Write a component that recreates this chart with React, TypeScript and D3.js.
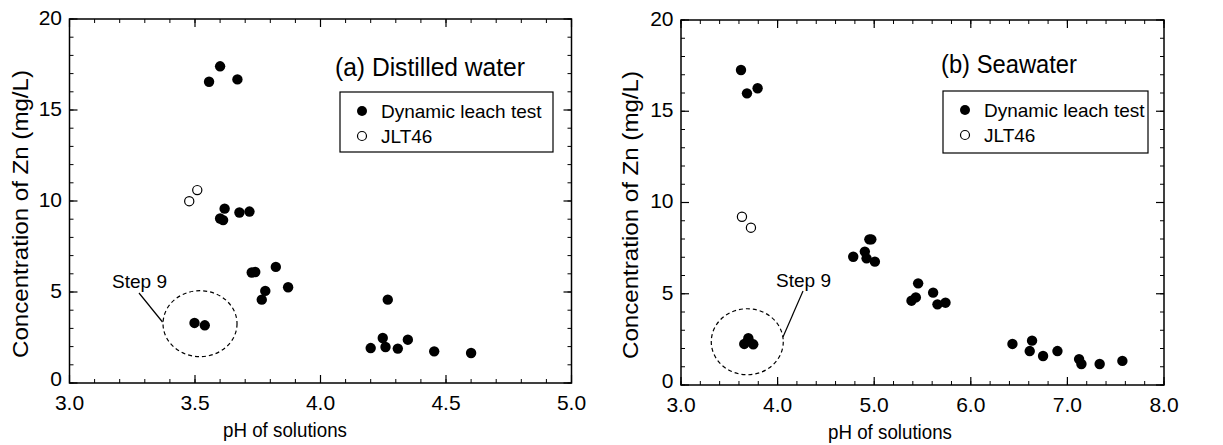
import React from "react";
import * as d3 from "d3";

// ---------- data ----------
const yTicks = [0, 5, 10, 15, 20];
const distilledXTicks = [3.0, 3.5, 4.0, 4.5, 5.0];
const seawaterXTicks = [3.0, 4.0, 5.0, 6.0, 7.0, 8.0];

const distilledDynamicPH = [3.556, 3.6, 3.669, 3.618, 3.6, 3.612, 3.677, 3.717, 3.726, 3.74, 3.822, 3.78, 3.766, 3.871, 3.498, 3.539, 4.268, 4.248, 4.259, 4.2, 4.308, 4.348, 4.453, 4.6];
const distilledDynamicZn = [16.55, 17.4, 16.68, 9.58, 9.04, 8.95, 9.37, 9.42, 6.07, 6.1, 6.38, 5.06, 4.58, 5.26, 3.3, 3.17, 4.58, 2.47, 1.98, 1.92, 1.89, 2.38, 1.74, 1.65];
const distilledJltPH = [3.477, 3.509];
const distilledJltZn = [9.99, 10.6];

const seawaterDynamicPH = [3.621, 3.683, 3.793, 3.655, 3.697, 3.748, 4.783, 4.903, 4.921, 4.95, 4.97, 5.007, 5.386, 5.431, 5.455, 5.61, 5.655, 5.738, 6.431, 6.634, 6.61, 6.748, 6.897, 7.121, 7.145, 7.334, 7.569];
const seawaterDynamicZn = [17.26, 15.98, 16.26, 2.25, 2.56, 2.23, 7.03, 7.31, 6.94, 7.98, 7.98, 6.76, 4.62, 4.8, 5.57, 5.06, 4.42, 4.51, 2.25, 2.43, 1.86, 1.59, 1.86, 1.42, 1.15, 1.15, 1.32];
const seawaterJltPH = [3.631, 3.724];
const seawaterJltZn = [9.22, 8.62];

const legendLabels = ["Dynamic leach test", "JLT46"];
const xLabel = "pH of solutions";
const yLabel = "Concentration of Zn (mg/L)";

const FONT = '"Liberation Sans", Arial, Helvetica, sans-serif';

type PanelCfg = {
  left: number; top: number; width: number; height: number;
  xDomain: [number, number]; xTicks: number[]; xMinorStep: number;
  title: string; titleX: number; titleY: number; titleLen: number;
  legendX: number; legendY: number; legendW: number; legendH: number;
  dynPH: number[]; dynZn: number[]; jltPH: number[]; jltZn: number[];
  ellipse: { cx: number; cy: number; rx: number; ry: number };
  stepText: { x: number; y: number }; stepLine: [number, number, number, number];
  xLabelCx: number; yLabelX: number; yLabelCy: number;
};

function Panel({ c }: { c: PanelCfg }) {
  const x = d3.scaleLinear().domain(c.xDomain).range([0, c.width]);
  const y = d3.scaleLinear().domain([0, 20]).range([c.height, 0]);
  const xMinor = d3.range(c.xDomain[0], c.xDomain[1] + 1e-9, c.xMinorStep);
  const yMinor = d3.range(0, 20.0001, 1);
  const major = 8, minor = 4;
  const fmt = d3.format(".1f");
  return (
    <g transform={`translate(${c.left},${c.top})`}>
      {/* frame */}
      <rect x={0} y={0} width={c.width} height={c.height} fill="none" stroke="#000" strokeWidth={1.5} />
      {/* minor ticks */}
      {xMinor.map((v, i) => (
        <g key={"xm" + i}>
          <line x1={x(v)} x2={x(v)} y1={c.height} y2={c.height - minor} stroke="#000" strokeWidth={1} />
          <line x1={x(v)} x2={x(v)} y1={0} y2={minor} stroke="#000" strokeWidth={1} />
        </g>
      ))}
      {yMinor.map((v, i) => (
        <g key={"ym" + i}>
          <line x1={0} x2={minor} y1={y(v)} y2={y(v)} stroke="#000" strokeWidth={1} />
          <line x1={c.width} x2={c.width - minor} y1={y(v)} y2={y(v)} stroke="#000" strokeWidth={1} />
        </g>
      ))}
      {/* major ticks + labels */}
      {c.xTicks.map((v, i) => (
        <g key={"xt" + i}>
          <line x1={x(v)} x2={x(v)} y1={c.height} y2={c.height - major} stroke="#000" strokeWidth={1.2} />
          <line x1={x(v)} x2={x(v)} y1={0} y2={major} stroke="#000" strokeWidth={1.2} />
          <text x={x(v)} y={c.height + 26.5} textAnchor="middle" fontSize={21} fontFamily={FONT}>{fmt(v)}</text>
        </g>
      ))}
      {yTicks.map((v, i) => (
        <g key={"yt" + i}>
          <line x1={0} x2={major} y1={y(v)} y2={y(v)} stroke="#000" strokeWidth={1.2} />
          <line x1={c.width} x2={c.width - major} y1={y(v)} y2={y(v)} stroke="#000" strokeWidth={1.2} />
          <text x={-7.5} y={y(v) - (v === 0 ? 4.5 : 1.5)} dy="0.35em" textAnchor="end" fontSize={21} fontFamily={FONT}>{v}</text>
        </g>
      ))}
      {/* axis labels */}
      <text x={c.xLabelCx} y={c.height + 54} textAnchor="middle" fontSize={21} textLength={124} lengthAdjust="spacingAndGlyphs" fontFamily={FONT}>{xLabel}</text>
      <text transform={`translate(${c.yLabelX},${c.yLabelCy}) rotate(-90)`} textAnchor="middle" fontSize={22} textLength={288} lengthAdjust="spacingAndGlyphs" fontFamily={FONT}>{yLabel}</text>
      {/* title */}
      <text x={c.titleX} y={c.titleY} fontSize={25} textLength={c.titleLen} lengthAdjust="spacingAndGlyphs" fontFamily={FONT}>{c.title}</text>
      {/* legend */}
      <rect x={c.legendX} y={c.legendY} width={c.legendW} height={c.legendH} fill="#fff" stroke="#000" strokeWidth={1.2} />
      <circle cx={c.legendX + 22} cy={c.legendY + 19} r={5} fill="#000" />
      <text x={c.legendX + 41} y={c.legendY + 19} dy="0.35em" fontSize={19} fontFamily={FONT}>{legendLabels[0]}</text>
      <circle cx={c.legendX + 22} cy={c.legendY + 44} r={4.5} fill="#fff" stroke="#000" strokeWidth={1.2} />
      <text x={c.legendX + 41} y={c.legendY + 44} dy="0.35em" fontSize={19} fontFamily={FONT}>{legendLabels[1]}</text>
      {/* annotation */}
      <ellipse cx={x(c.ellipse.cx)} cy={y(c.ellipse.cy)} rx={c.ellipse.rx} ry={c.ellipse.ry} fill="none" stroke="#000" strokeWidth={1.2} strokeDasharray="4,3" />
      <text x={c.stepText.x} y={c.stepText.y} fontSize={19} textLength={55} lengthAdjust="spacingAndGlyphs" fontFamily={FONT}>Step 9</text>
      <line x1={c.stepLine[0]} y1={c.stepLine[1]} x2={c.stepLine[2]} y2={c.stepLine[3]} stroke="#000" strokeWidth={1.2} />
      {/* data */}
      {c.dynPH.map((v, i) => (
        <circle key={"d" + i} cx={x(v)} cy={y(c.dynZn[i])} r={5.2} fill="#000" />
      ))}
      {c.jltPH.map((v, i) => (
        <circle key={"j" + i} cx={x(v)} cy={y(c.jltZn[i])} r={4.6} fill="#fff" stroke="#000" strokeWidth={1.2} />
      ))}
    </g>
  );
}

const leftPanel: PanelCfg = {
  left: 69.5, top: 19, width: 502, height: 364,
  xDomain: [3.0, 5.0], xTicks: distilledXTicks, xMinorStep: 0.1,
  title: "(a) Distilled water", titleX: 265.5, titleY: 57, titleLen: 190,
  legendX: 270.5, legendY: 73, legendW: 213, legendH: 60,
  dynPH: distilledDynamicPH, dynZn: distilledDynamicZn, jltPH: distilledJltPH, jltZn: distilledJltZn,
  ellipse: { cx: 3.52, cy: 3.26, rx: 37, ry: 33 },
  stepText: { x: 42.5, y: 269 }, stepLine: [69.5, 274, 93, 303],
  xLabelCx: 215.5, yLabelX: -42, yLabelCy: 195,
};

const rightPanel: PanelCfg = {
  left: 681, top: 20, width: 483, height: 365,
  xDomain: [3.0, 8.0], xTicks: seawaterXTicks, xMinorStep: 0.2,
  title: "(b) Seawater", titleX: 260, titleY: 53, titleLen: 136,
  legendX: 262, legendY: 71, legendW: 205, legendH: 62,
  dynPH: seawaterDynamicPH, dynZn: seawaterDynamicZn, jltPH: seawaterJltPH, jltZn: seawaterJltZn,
  ellipse: { cx: 3.686, cy: 2.37, rx: 36, ry: 33 },
  stepText: { x: 95, y: 267 }, stepLine: [122, 271, 102, 317],
  xLabelCx: 209, yLabelX: -43, yLabelCy: 195,
};

export default function App() {
  return (
    <svg width={1223} height={445} style={{ position: "absolute", left: 0, top: 0, background: "#fff" }}>
      <rect x={0} y={0} width={1223} height={445} fill="#fff" />
      <Panel c={leftPanel} />
      <Panel c={rightPanel} />
    </svg>
  );
}
